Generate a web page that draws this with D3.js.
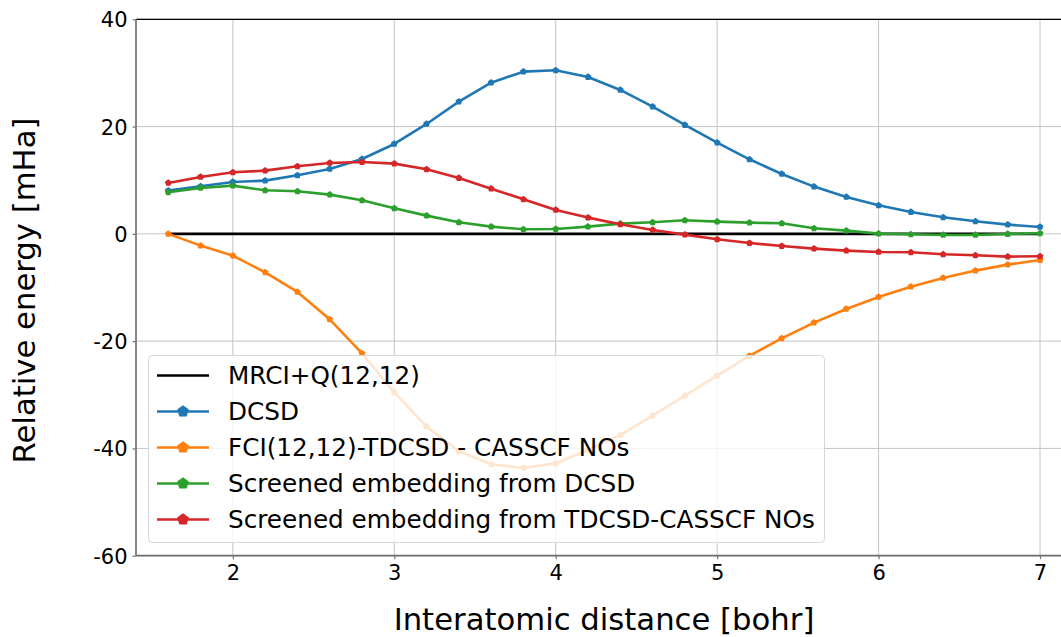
<!DOCTYPE html>
<html>
<head>
<meta charset="utf-8">
<script src="https://cdn.jsdelivr.net/npm/d3@7"></script>
<style>
  html, body { margin: 0; padding: 0; background: #fff; }
  svg { display: block; font-family: "DejaVu Sans", sans-serif; }
</style>
</head>
<body>
<svg id="chart" width="1061" height="637"></svg>
<script>
// Interatomic distances [bohr]
const distances = [1.6, 1.8, 2.0, 2.2, 2.4, 2.6, 2.8, 3.0, 3.2, 3.4, 3.6, 3.8, 4.0, 4.2,
                   4.4, 4.6, 4.8, 5.0, 5.2, 5.4, 5.6, 5.8, 6.0, 6.2, 6.4, 6.6, 6.8, 7.0];

// Energies relative to MRCI+Q(12,12) [mHa]
const mrciq = distances.map(() => 0);
const dcsd = [8.06, 8.87, 9.68, 9.92, 10.92, 12.10, 13.96, 16.76, 20.49, 24.65, 28.19, 30.24, 30.49, 29.25,
              26.83, 23.72, 20.30, 17.01, 13.90, 11.17, 8.81, 6.88, 5.33, 4.08, 3.09, 2.34, 1.72, 1.29];
const fciTdcsd = [0.0, -2.19, -4.06, -7.17, -10.83, -15.93, -22.27, -29.54, -35.94, -40.54, -42.96, -43.64, -42.77, -40.3,
                  -37.5, -33.9, -30.16, -26.43, -22.76, -19.47, -16.55, -14.0, -11.76, -9.84, -8.22, -6.85, -5.74, -4.87];
const screenedDcsd = [7.75, 8.56, 8.99, 8.12, 7.94, 7.31, 6.26, 4.77, 3.40, 2.16, 1.35, 0.85, 0.91, 1.35,
                      1.91, 2.16, 2.53, 2.28, 2.09, 1.97, 1.04, 0.60, 0.04, -0.08, -0.20, -0.20, -0.02, 0.10];
const screenedTdcsd = [9.49, 10.61, 11.48, 11.79, 12.60, 13.22, 13.40, 13.09, 12.04, 10.42, 8.43, 6.44, 4.46, 3.03,
                       1.78, 0.73, -0.14, -1.01, -1.70, -2.26, -2.75, -3.13, -3.37, -3.44, -3.81, -4.00, -4.24, -4.18];

const xTicks = [2, 3, 4, 5, 6, 7];
const yTicks = [-60, -40, -20, 0, 20, 40];

const seriesNames = ["MRCI+Q(12,12)", "DCSD", "FCI(12,12)-TDCSD - CASSCF NOs",
                     "Screened embedding from DCSD", "Screened embedding from TDCSD-CASSCF NOs"];
const seriesValues = [mrciq, dcsd, fciTdcsd, screenedDcsd, screenedTdcsd];
const seriesColors = ["#000000", "#1f77b4", "#ff7f0e", "#2ca02c", "#d62728"];
const seriesMarkers = [false, true, true, true, true];

const series = seriesNames.map((name, i) => ({
  name, color: seriesColors[i], marker: seriesMarkers[i],
  points: distances.map((d, j) => ({ x: d, y: seriesValues[i][j] }))
}));

const svg = d3.select("#chart");
const W = 1061;
const plotLeft = 136, plotTop = 19.3, plotBottom = 555.7;
const x = d3.scaleLinear().domain([1.4, 7.2]).range([plotLeft, 1072.3]);
const y = d3.scaleLinear().domain([-60, 40]).range([plotBottom, plotTop]);

// pentagon marker path centred at the origin
function pentagon(r) {
  const pts = d3.range(5).map(k => {
    const a = -Math.PI / 2 + k * 2 * Math.PI / 5;
    return [r * Math.cos(a), r * Math.sin(a)];
  });
  return d3.line()(pts) + "Z";
}

svg.append("defs").append("clipPath").attr("id", "plotClip")
  .append("rect").attr("x", plotLeft).attr("y", plotTop - 4)
  .attr("width", W - plotLeft).attr("height", plotBottom - plotTop + 8);

// grid
const grid = svg.append("g").attr("stroke", "#c4c4c4").attr("stroke-width", 1);
grid.selectAll("line.gx").data(xTicks).join("line").attr("class", "gx")
  .attr("x1", d => x(d)).attr("x2", d => x(d)).attr("y1", plotTop).attr("y2", plotBottom);
grid.selectAll("line.gy").data(yTicks).join("line").attr("class", "gy")
  .attr("x1", plotLeft).attr("x2", W).attr("y1", d => y(d)).attr("y2", d => y(d));

// data lines
const plot = svg.append("g").attr("clip-path", "url(#plotClip)");
const line = d3.line().x(d => x(d.x)).y(d => y(d.y));
series.forEach(s => {
  const g = plot.append("g");
  g.append("path").datum(s.points)
    .attr("d", line).attr("fill", "none")
    .attr("stroke", s.color).attr("stroke-width", 2.6).attr("stroke-linejoin", "round");
  if (s.marker) {
    g.selectAll("path.m").data(s.points).join("path")
      .attr("class", "m")
      .attr("d", pentagon(3.6))
      .attr("transform", d => `translate(${x(d.x)},${y(d.y)})`)
      .attr("fill", s.color);
  }
});

// axes (plain hyphen-minus in tick labels)
const tickFmt = d => String(d);
const xAxis = svg.append("g").attr("transform", `translate(0,${plotBottom})`)
  .call(d3.axisBottom(x).tickValues(xTicks).tickFormat(tickFmt).tickSize(3.5).tickPadding(5));
const yAxis = svg.append("g").attr("transform", `translate(${plotLeft},0)`)
  .call(d3.axisLeft(y).tickValues(yTicks).tickFormat(tickFmt).tickSize(3.5).tickPadding(5));
[xAxis, yAxis].forEach(a => {
  a.select(".domain").remove();
  a.selectAll(".tick line").attr("stroke", "#777").attr("stroke-width", 1.2);
  a.selectAll(".tick text").attr("fill", "#000").style("font-size", "21px")
    .style("font-family", "'DejaVu Sans', sans-serif");
});
yAxis.selectAll(".tick text").attr("dy", "0.36em");
xAxis.selectAll(".tick text").attr("dy", "0.74em");

// spines
svg.append("line").attr("x1", plotLeft).attr("x2", W).attr("y1", plotTop).attr("y2", plotTop)
  .attr("stroke", "#000").attr("stroke-width", 1.3);
svg.append("line").attr("x1", plotLeft).attr("x2", plotLeft).attr("y1", plotTop).attr("y2", plotBottom)
  .attr("stroke", "#7a7a7a").attr("stroke-width", 1.8);
svg.append("line").attr("x1", plotLeft).attr("x2", W).attr("y1", plotBottom).attr("y2", plotBottom)
  .attr("stroke", "#6e6e6e").attr("stroke-width", 1.8);

// axis labels
svg.append("text").attr("x", 604).attr("y", 630).attr("text-anchor", "middle")
  .style("font-size", "30.7px").text("Interatomic distance [bohr]");
svg.append("text").attr("transform", "translate(35,290.5) rotate(-90)").attr("text-anchor", "middle")
  .style("font-size", "30.7px").text("Relative energy [mHa]");

// legend
const lg = svg.append("g");
lg.append("rect").attr("x", 148.5).attr("y", 355.5).attr("width", 676).attr("height", 187)
  .attr("rx", 4).attr("fill", "#fff").attr("fill-opacity", 0.8)
  .attr("stroke", "#d6d6d6").attr("stroke-width", 1);
series.forEach((s, i) => {
  const cy = 375.5 + i * 36;
  const row = lg.append("g");
  row.append("line").attr("x1", 157).attr("x2", 209).attr("y1", cy).attr("y2", cy)
    .attr("stroke", s.color).attr("stroke-width", 2.6);
  if (s.marker) {
    row.append("path").attr("d", pentagon(6.2)).attr("transform", `translate(183,${cy})`).attr("fill", s.color);
  }
  row.append("text").attr("x", 228).attr("y", cy).attr("dy", "0.36em")
    .style("font-size", "24.7px").text(s.name);
});
</script>
</body>
</html>
